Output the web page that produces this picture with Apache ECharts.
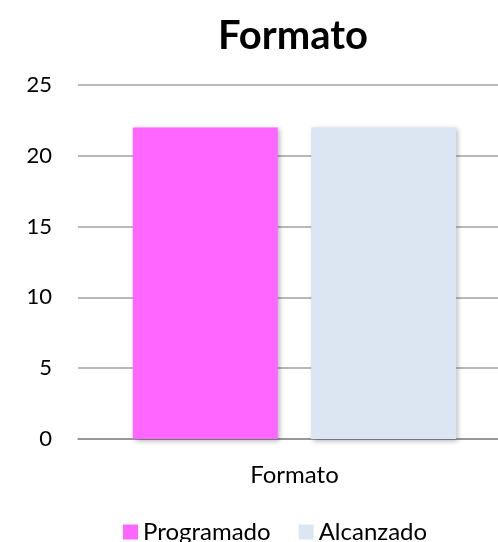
<!DOCTYPE html>
<html><head><meta charset="utf-8">
<script src="https://cdn.jsdelivr.net/npm/echarts@6/dist/echarts.min.js"></script>
<style>html,body{margin:0;padding:0;background:#fff}#c{width:498px;height:542px}</style>
</head><body><div id="c"></div>
<script>
var categories = ['Formato'];
var programado = [22];
var alcanzado = [22];
var yTicks = [0, 5, 10, 15, 20, 25];
var seriesNames = ['Programado', 'Alcanzado'];

var font = 'Lato, "Open Sans", sans-serif';
var chart = echarts.init(document.getElementById('c'));
chart.setOption({
  animation: false,
  title: { text: 'Formato', left: 288, textAlign: 'center', top: 11,
    textStyle: { fontFamily: font, fontSize: 40, fontWeight: 'bold', color: '#000' } },
  grid: { left: 78, width: 433, top: 85, bottom: 103, outerBoundsMode: 'none', containLabel: false },
  legend: { data: seriesNames, top: 515, left: 118, itemWidth: 15, itemHeight: 15, itemGap: 28,
    icon: 'rect', textStyle: { fontFamily: font, fontSize: 24, color: '#000' } },
  xAxis: { type: 'category', data: categories,
    axisLine: { lineStyle: { color: '#8c8c8c', width: 1.5 } }, axisTick: { show: false },
    axisLabel: { fontFamily: font, fontSize: 24, color: '#000', margin: 24 } },
  yAxis: { type: 'value', min: yTicks[0], max: yTicks[yTicks.length - 1], interval: 5,
    axisLine: { show: false }, axisTick: { show: false },
    axisLabel: { fontFamily: font, fontSize: 22, color: '#000', margin: 26 },
    splitLine: { lineStyle: { color: '#a0a0a0', width: 1.5 } } },
  series: [
    { name: seriesNames[0], type: 'bar', data: programado, barWidth: '33.5%', barGap: '23%',
      itemStyle: { color: '#FF66FF', shadowColor: 'rgba(0,0,0,0.3)', shadowBlur: 5, shadowOffsetX: 2, shadowOffsetY: 2 } },
    { name: seriesNames[1], type: 'bar', data: alcanzado, barWidth: '33.5%',
      itemStyle: { color: '#DCE6F2', shadowColor: 'rgba(0,0,0,0.3)', shadowBlur: 5, shadowOffsetX: 2, shadowOffsetY: 2 } }
  ]
});
</script></body></html>
